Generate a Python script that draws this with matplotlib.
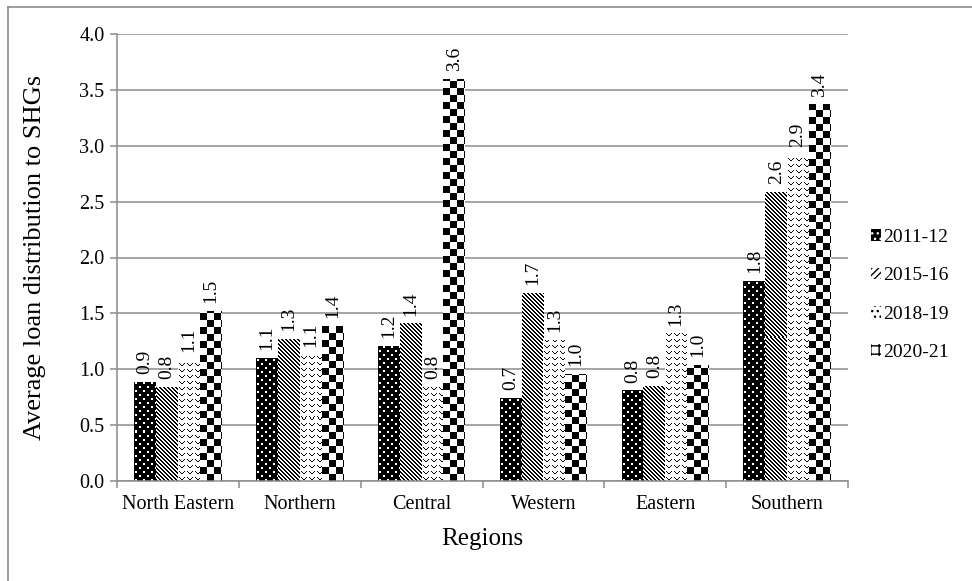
import numpy as np
import matplotlib
matplotlib.use("Agg")
import matplotlib.pyplot as plt
from matplotlib.patches import Patch
from matplotlib.lines import Line2D

plt.rcParams['font.family'] = ['Liberation Serif', 'DejaVu Serif']

regions = ["North Eastern", "Northern", "Central", "Western", "Eastern", "Southern"]
years = ["2011-12", "2015-16", "2018-19", "2020-21"]
loan_2011 = [0.89, 1.10, 1.21, 0.74, 0.81, 1.79]
loan_2015 = [0.84, 1.27, 1.41, 1.68, 0.85, 2.59]
loan_2018 = [1.08, 1.13, 0.84, 1.26, 1.32, 2.92]
loan_2020 = [1.52, 1.39, 3.60, 0.96, 1.04, 3.37]
yticks = np.arange(0, 4.01, 0.5)

GRID = '#8c8c8c'

# pixel tiles used to fill the bars (1 = white, 0 = black)
def tile_dots():
    t = np.zeros((8, 8))
    t[0:2, 1:3] = 1
    t[4:6, 5:7] = 1
    return t

def tile_diag():
    r, c = np.indices((4, 4))
    return np.where((r + c) % 4 < 2, 0.0, 1.0)

def tile_wave():
    t = np.ones((6, 8))
    for r, c in [(1, 3), (1, 4), (2, 2), (2, 5), (3, 1), (3, 6), (3, 0), (2, 7)]:
        t[r, c] = 0
    # break the line into dashes
    t[3, 0] = 1
    t[2, 7] = 1
    return t

def tile_checker():
    t = np.ones((14, 14))
    t[0:7, 7:14] = 0
    t[7:14, 0:7] = 0
    return t

tiles = [tile_dots(), tile_diag(), tile_wave(), tile_checker()]


def fill_pattern(ax, bar, tile):
    x0, w, h = bar.get_x(), bar.get_width(), bar.get_height()
    p0 = ax.transData.transform((x0, 0))
    p1 = ax.transData.transform((x0 + w, h))
    nx = max(int(round(p1[0] - p0[0])), 1)
    ny = max(int(round(p1[1] - p0[1])), 1)
    th, tw = tile.shape
    rows = (np.arange(ny)[::-1]) % th
    cols = np.arange(nx) % tw
    img = tile[rows][:, cols]
    im = ax.imshow(img, extent=(x0, x0 + w, 0, h), origin='upper', aspect='auto',
                   cmap='gray', vmin=0, vmax=1, interpolation='nearest', zorder=2)
    im.set_clip_path(bar)


fig = plt.figure(figsize=(9.72, 5.81), dpi=100)
ax = fig.add_axes([117 / 972, 1 - 481 / 581, (848 - 117) / 972, (481 - 34) / 581])
ax.set_xlim(-0.5, len(regions) - 0.5)
ax.set_ylim(0, 4.0)

x = np.arange(len(regions))
width = 0.179
series = [loan_2011, loan_2015, loan_2018, loan_2020]

for i, vals in enumerate(series):
    pos = x + (i - 1.5) * width
    bars = ax.bar(pos, vals, width, color='none', edgecolor='none', zorder=2)
    for b, v in zip(bars, vals):
        fill_pattern(ax, b, tiles[i])
        ax.text(b.get_x() + b.get_width() / 2, v + 0.07, f"{v:.1f}", rotation=90,
                ha='center', va='bottom', fontsize=14)

ax.set_xlim(-0.5, len(regions) - 0.5)
ax.set_ylim(0, 4.0)

ax.set_yticks(yticks)
ax.set_yticklabels([f"{t:.1f}" for t in yticks])
ax.yaxis.grid(True, color=GRID, linewidth=1.1)
ax.set_axisbelow(True)
ax.set_xticks(x)
ax.set_xticklabels(regions)
ax.set_xticks(np.arange(-0.5, len(regions), 1.0), minor=True)
ax.tick_params(axis='x', which='major', length=0, pad=10, labelsize=14.5)
ax.tick_params(axis='x', which='minor', length=5, color=GRID, width=1.1)
ax.tick_params(axis='y', length=5, color=GRID, width=1.1, labelsize=14.5, pad=4)

for side in ['top', 'right']:
    ax.spines[side].set_visible(False)
for side in ['left', 'bottom']:
    ax.spines[side].set_color(GRID)
    ax.spines[side].set_linewidth(1.1)

ax.set_xlabel("Regions", fontsize=18)
ax.set_ylabel("Average loan distribution to SHGs", fontsize=19)
ax.xaxis.set_label_coords(0.5, -0.105)
ax.yaxis.set_label_coords(-0.097, 0.5)

plt.rcParams['hatch.linewidth'] = 1.0
handles = [
    Patch(facecolor='black', edgecolor='white', hatch='...', linewidth=0),
    Patch(facecolor='white', edgecolor='black', hatch='/////', linewidth=0),
    Patch(facecolor='white', edgecolor='black', hatch='...', linewidth=0),
    Patch(facecolor='white', edgecolor='black', hatch='++', linewidth=0),
]
fig.legend(handles, years, loc='center left', bbox_to_anchor=(861 / 972, 1 - 295 / 581),
           frameon=False, fontsize=14, handlelength=0.55, handleheight=0.55,
           handletextpad=0.1, labelspacing=1.1, borderpad=0)

# outer frame around the chart area
fig.add_artist(Line2D([8 / 972, 8 / 972], [0, 1 - 7 / 581], transform=fig.transFigure,
                      color=GRID, linewidth=1.2))
fig.add_artist(Line2D([8 / 972, 1], [1 - 7 / 581, 1 - 7 / 581], transform=fig.transFigure,
                      color=GRID, linewidth=1.2))

fig.savefig("out.png", dpi=100)
